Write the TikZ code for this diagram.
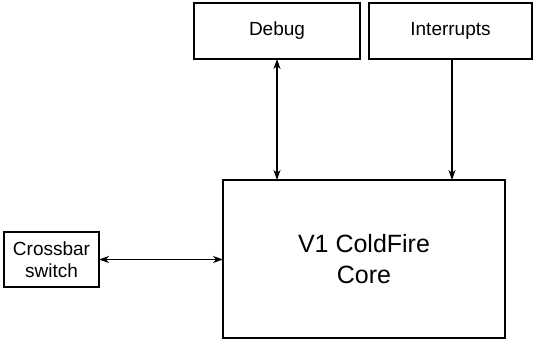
\documentclass[tikz,border=0pt]{standalone}
\usepackage{fontspec}
\setmainfont{Liberation Sans}
\usetikzlibrary{arrows.meta}
\begin{document}
\begin{tikzpicture}[x=1pt,y=1pt,
  tip/.style={Stealth[length=10pt,width=7pt,inset=3pt]},
  blk/.style={draw, line width=1.2pt, inner sep=0pt, outer sep=0pt, align=center, font=\fontsize{19}{22.5}\selectfont},
  conn/.style={line width=1.2pt, {Stealth[length=10pt,width=7pt,inset=3pt]}-{Stealth[length=10pt,width=7pt,inset=3pt]}},
  oneway/.style={line width=1.2pt, -{Stealth[length=10pt,width=7pt,inset=3pt]}}]
\useasboundingbox (0,0) rectangle (535,339);
\node[blk, minimum width=166pt, minimum height=56pt] (debug) at (277,308) {Debug};
\node[blk, minimum width=163pt, minimum height=56pt] (intr) at (450.5,308) {Interrupts};
\node[blk, minimum width=282pt, minimum height=158pt, font=\fontsize{25}{31}\selectfont] (core) at (364,80) {\raisebox{0pt}{V1 ColdFire}\\Core};
\node[blk, minimum width=95pt, minimum height=55pt] (xbar) at (51.5,79.5) {Crossbar\\switch};
\coordinate (ix) at (452,0);
\draw[conn] (debug.south) -- (core.north -| debug.south);
\draw[oneway] (intr.south -| ix) -- (core.north -| ix);
\draw[conn] (xbar.east) -- (xbar.east -| core.west);
\end{tikzpicture}
\end{document}
